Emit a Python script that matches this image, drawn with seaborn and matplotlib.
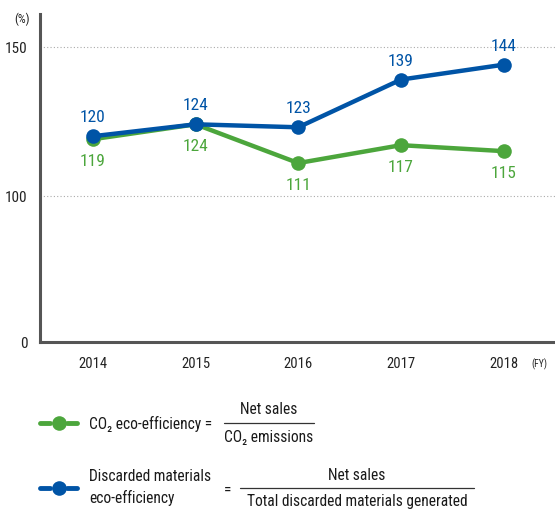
import numpy as np
import pandas as pd
import seaborn as sns
import matplotlib
matplotlib.use("Agg")
import matplotlib.pyplot as plt
from matplotlib.lines import Line2D

years = ["2014", "2015", "2016", "2017", "2018"]
co2_eff = [119, 124, 111, 117, 115]
waste_eff = [120, 124, 123, 139, 144]
ytick_vals = [0, 100, 150]

GREEN = "#4ca63c"
BLUE = "#0054a6"
GRAY = "#555555"

sns.set_theme(style="white")
FONT = ["Roboto Condensed", "DejaVu Sans"]
plt.rcParams["font.family"] = FONT

df = pd.DataFrame({
    "year": years * 2,
    "x": list(range(len(years))) * 2,
    "value": co2_eff + waste_eff,
    "series": ["co2"] * len(years) + ["waste"] * len(years),
})

fig = plt.figure(figsize=(5.55, 5.10), dpi=100)
ax = fig.add_axes([40 / 555, 1 - 343 / 510, 515 / 555, 328 / 510])

K = 2.04
def fwd(v):
    v = np.asarray(v, dtype=float)
    return np.where(v <= 100, v, 100 + (v - 100) * K)
def inv(u):
    u = np.asarray(u, dtype=float)
    return np.where(u <= 100, u, 100 + (u - 100) / K)
ax.set_yscale("function", functions=(fwd, inv))

sns.lineplot(data=df, x="x", y="value", hue="series", hue_order=["co2", "waste"],
             palette={"co2": GREEN, "waste": BLUE}, marker="o", markersize=10.5,
             markeredgewidth=0, linewidth=3.2, legend=False, ax=ax)

for i, v in enumerate(waste_eff):
    ax.annotate(str(v), (i, v), xytext=(0, 14), textcoords="offset points",
                ha="center", va="center", color=BLUE, fontsize=12.5)
for i, v in enumerate(co2_eff):
    ax.annotate(str(v), (i, v), xytext=(0, -15.5), textcoords="offset points",
                ha="center", va="center", color=GREEN, fontsize=12.5)

ax.set_xlim(-0.515, 4.5)
ax.set_ylim(0, 161)
ax.set_xticks(range(len(years)))
ax.set_xticklabels(years, fontsize=10.5, color="#222222")
ax.set_yticks(ytick_vals)
ax.set_yticklabels([str(v) for v in ytick_vals], fontsize=11, color="#222222")
ax.tick_params(axis="both", length=0)
ax.tick_params(axis="x", pad=10)
ax.tick_params(axis="y", pad=9)
ax.set_xlabel("")
ax.set_ylabel("")
for s in ["top", "right"]:
    ax.spines[s].set_visible(False)
for s in ["left", "bottom"]:
    ax.spines[s].set_color(GRAY)
    ax.spines[s].set_linewidth(2.2)
for g in [100, 150]:
    ax.axhline(g, color="#aaaaaa", linestyle=(0, (1, 2)), linewidth=0.8, zorder=0)

fig.text(22 / 555, 1 - 19 / 510, "(%)", fontsize=9, ha="center", va="center", color="#222222")
fig.text(539 / 555, 1 - 364 / 510, "(FY)", fontsize=7, ha="center", va="center", color="#222222")

# legend-like formula block
def legend_marker(y, color):
    yy = 1 - y / 510
    fig.add_artist(Line2D([40 / 555, 50 / 555], [yy, yy], color=color, linewidth=3.5,
                          transform=fig.transFigure))
    fig.add_artist(Line2D([67 / 555, 77 / 555], [yy, yy], color=color, linewidth=3.5,
                          transform=fig.transFigure))
    fig.add_artist(Line2D([58.5 / 555], [yy], color=color, marker="o", markersize=10.5,
                          markeredgewidth=0, linestyle="none", transform=fig.transFigure))

fs = 11.2
TC = "#1a1a1a"
legend_marker(424, GREEN)
fig.text(89 / 555, 1 - 424 / 510, "CO₂ eco-efficiency =", fontsize=fs, ha="left", va="center", color=TC)
fig.text(269 / 555, 1 - 410 / 510, "Net sales", fontsize=fs, ha="center", va="center", color=TC)
fig.add_artist(Line2D([224 / 555, 314 / 555], [1 - 423.5 / 510] * 2, color="#333333",
                      linewidth=0.9, transform=fig.transFigure))
fig.text(269 / 555, 1 - 438 / 510, "CO₂ emissions", fontsize=fs, ha="center", va="center", color=TC)

legend_marker(489, BLUE)
fig.text(89 / 555, 1 - 477 / 510, "Discarded materials", fontsize=fs, ha="left", va="center", color=TC)
fig.text(89 / 555, 1 - 498 / 510, "eco-efficiency", fontsize=fs, ha="left", va="center", color=TC)
fig.text(228 / 555, 1 - 490 / 510, "=", fontsize=fs, ha="center", va="center", color=TC)
fig.text(357 / 555, 1 - 476 / 510, "Net sales", fontsize=fs, ha="center", va="center", color=TC)
fig.add_artist(Line2D([240 / 555, 474 / 555], [1 - 489 / 510] * 2, color="#333333",
                      linewidth=0.9, transform=fig.transFigure))
fig.text(357 / 555, 1 - 502 / 510, "Total discarded materials generated", fontsize=fs,
         ha="center", va="center", color=TC)

fig.savefig("out.png", dpi=100)
